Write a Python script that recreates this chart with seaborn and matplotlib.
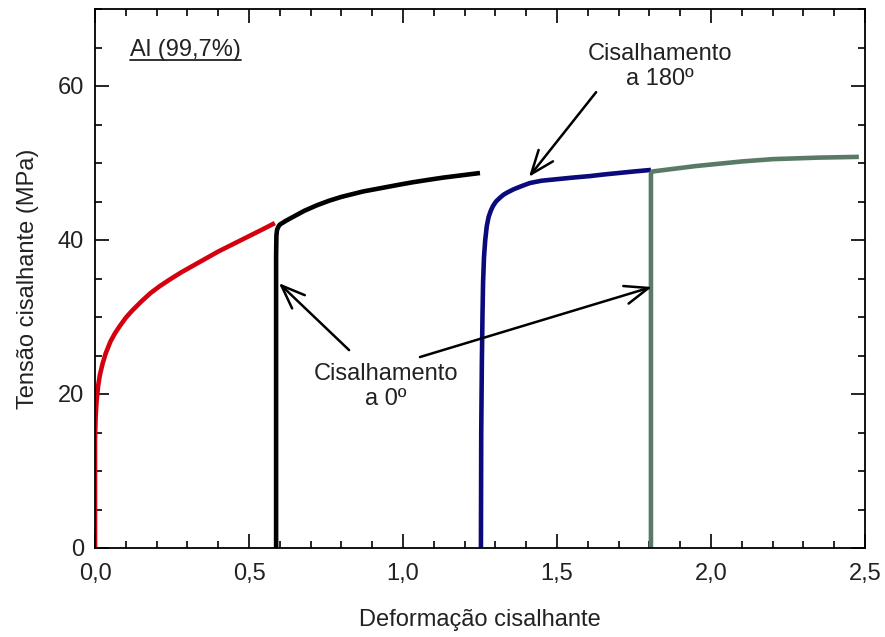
import numpy as np
import pandas as pd
import matplotlib
matplotlib.use("Agg")
import matplotlib.pyplot as plt
from matplotlib.lines import Line2D
from matplotlib.ticker import MultipleLocator
import seaborn as sns

# --- data ---
red_strain = [0.0, 0.0, 0.002, 0.005, 0.01, 0.016, 0.025, 0.035, 0.05, 0.065, 0.08, 0.10,
              0.12, 0.15, 0.18, 0.21, 0.244, 0.28, 0.32, 0.36, 0.40, 0.45, 0.50, 0.545, 0.584]
red_stress = [0.0, 14.0, 17.0, 19.0, 21.0, 22.5, 24.0, 25.3, 26.8, 27.9, 28.8, 29.9,
              30.8, 32.0, 33.1, 34.0, 34.9, 35.8, 36.7, 37.6, 38.5, 39.5, 40.5, 41.4, 42.2]

black_strain = [0.588, 0.588, 0.589, 0.591, 0.595, 0.60, 0.62, 0.643, 0.68, 0.72, 0.76, 0.80,
                0.84, 0.87, 0.91, 0.95, 0.99, 1.032, 1.08, 1.13, 1.19, 1.25]
black_stress = [0.0, 38.0, 40.6, 41.3, 41.7, 42.0, 42.5, 43.0, 43.8, 44.5, 45.1, 45.6,
                46.0, 46.3, 46.6, 46.9, 47.2, 47.5, 47.8, 48.1, 48.4, 48.7]

navy_strain = [1.253, 1.254, 1.256, 1.258, 1.260, 1.263, 1.267, 1.272, 1.278, 1.285, 1.292,
               1.302, 1.315, 1.327, 1.340, 1.36, 1.385, 1.412, 1.45, 1.50, 1.55, 1.607,
               1.65, 1.70, 1.75, 1.805]
navy_stress = [0.0, 15.0, 24.0, 30.0, 34.5, 37.8, 40.0, 41.8, 43.0, 43.8, 44.4,
               45.0, 45.5, 45.9, 46.2, 46.6, 47.0, 47.4, 47.7, 47.9, 48.1, 48.3,
               48.5, 48.7, 48.9, 49.1]

green_strain = [1.805, 1.805, 1.81, 1.85, 1.90, 1.95, 2.00, 2.05, 2.10, 2.15, 2.20, 2.275, 2.35, 2.42, 2.48]
green_stress = [0.0, 48.6, 48.9, 49.1, 49.35, 49.6, 49.8, 50.0, 50.2, 50.35, 50.5, 50.6, 50.7, 50.75, 50.8]

segment_colors = {"red": "#d5000f", "black": "#000000", "navy": "#0a0a7a", "green": "#5b7a66"}

x_ticks = [0.0, 0.5, 1.0, 1.5, 2.0, 2.5]
x_tick_labels = ["0,0", "0,5", "1,0", "1,5", "2,0", "2,5"]
y_ticks = [0, 20, 40, 60]
y_tick_labels = ["0", "20", "40", "60"]


def build_frame():
    parts = []
    for name, xs, ys in [("red", red_strain, red_stress),
                         ("black", black_strain, black_stress),
                         ("navy", navy_strain, navy_stress),
                         ("green", green_strain, green_stress)]:
        parts.append(pd.DataFrame({"strain": xs, "stress": ys, "segment": name}))
    return pd.concat(parts, ignore_index=True)


df = build_frame()

sns.set_theme(style="ticks")
plt.rcParams["font.family"] = ["Liberation Sans", "DejaVu Sans"]

fig = plt.figure(figsize=(8.85, 6.37), dpi=100)
ax = fig.add_axes([95 / 885, 1 - 548 / 637, 770 / 885, 539 / 637])

sns.lineplot(data=df, x="strain", y="stress", hue="segment", palette=segment_colors,
             sort=False, estimator=None, legend=False, linewidth=3.3, ax=ax,
             solid_capstyle="butt")

ax.set_xlim(0, 2.5)
ax.set_ylim(0, 70)
ax.set_xticks(x_ticks)
ax.set_xticklabels(x_tick_labels)
ax.set_yticks(y_ticks)
ax.set_yticklabels(y_tick_labels)
ax.xaxis.set_minor_locator(MultipleLocator(0.1))
ax.yaxis.set_minor_locator(MultipleLocator(5))
ax.tick_params(which="both", direction="in", top=True, right=True, width=1.2, colors="black")
ax.tick_params(which="major", length=10, labelsize=17, labelcolor="#222222")
ax.tick_params(which="minor", length=5)
ax.tick_params(axis="x", which="major", pad=11)
ax.tick_params(axis="y", which="major", pad=8)
for sp in ax.spines.values():
    sp.set_linewidth(1.3)
    sp.set_color("black")

ax.set_xlabel("Deformação cisalhante", fontsize=17, color="#222222", labelpad=17)
ax.set_ylabel("Tensão cisalhante (MPa)", fontsize=17, color="#222222", labelpad=13)

# sample label, underlined
label = ax.text(0.114, 64.7, "Al (99,7%)", fontsize=17, color="#222222", ha="left", va="center")

ax.text(1.834, 62.5, "Cisalhamento\na 180º", fontsize=17, color="#222222",
        ha="center", va="center", linespacing=1.2)
ax.text(0.945, 21.0, "Cisalhamento\na 0º", fontsize=17, color="#222222",
        ha="center", va="center", linespacing=1.2)

arrow_kw = dict(arrowstyle="->,head_length=0.85,head_width=0.33", color="black",
                lw=1.8, mutation_scale=20, shrinkA=0, shrinkB=0)
ax.annotate("", xy=(1.409, 48.2), xytext=(1.627, 59.2), arrowprops=arrow_kw)
ax.annotate("", xy=(0.597, 34.4), xytext=(0.825, 25.7), arrowprops=arrow_kw)
ax.annotate("", xy=(1.808, 33.9), xytext=(1.055, 24.8), arrowprops=arrow_kw)

fig.canvas.draw()
bb = label.get_window_extent().transformed(fig.transFigure.inverted())
fig.add_artist(Line2D([bb.x0, bb.x1], [bb.y0 + 0.002, bb.y0 + 0.002],
                      transform=fig.transFigure, color="#222222", lw=1.3))

fig.savefig("out.png", dpi=100)
